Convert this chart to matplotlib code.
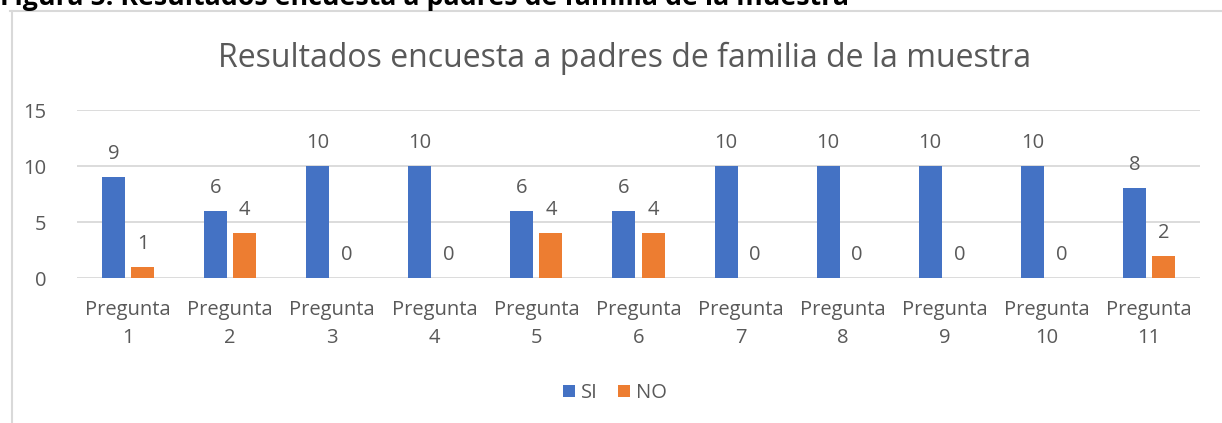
import matplotlib.pyplot as plt
import numpy as np
from matplotlib.lines import Line2D

# datos de la encuesta
preguntas = ['Pregunta\n1', 'Pregunta\n2', 'Pregunta\n3', 'Pregunta\n4', 'Pregunta\n5',
             'Pregunta\n6', 'Pregunta\n7', 'Pregunta\n8', 'Pregunta\n9', 'Pregunta\n10',
             'Pregunta\n11']
si_vals = [9, 6, 10, 10, 6, 6, 10, 10, 10, 10, 8]
no_vals = [1, 4, 0, 0, 4, 4, 0, 0, 0, 0, 2]
y_ticks = [0, 5, 10, 15]

azul = '#4472C4'
naranja = '#ED7D31'
gris = '#595959'

plt.rcParams['font.family'] = ['Open Sans', 'DejaVu Sans']

W, H = 1222, 423
fig = plt.figure(figsize=(W / 100, H / 100), dpi=100)

# marco del grafico
fig.add_artist(Line2D([10 / W, 1.0], [1 - 11.5 / H, 1 - 11.5 / H], transform=fig.transFigure,
                      color='#d9d9d9', lw=1.5))
fig.add_artist(Line2D([11.5 / W, 11.5 / W], [0, 1 - 11.5 / H], transform=fig.transFigure,
                      color='#d9d9d9', lw=1.5))

# titulo de la figura (cortado arriba)
fig.text(0 / W, 1 - 5 / H, 'Figura 5. Resultados encuesta a padres de familia de la muestra',
         fontsize=19.3, fontweight='bold', color='black', ha='left', va='baseline')

ax = fig.add_axes([77 / W, 1 - 278 / H, (1200 - 77) / W, (278 - 110) / H])

x = np.arange(len(preguntas))
w = 0.225
off = 0.1425
b1 = ax.bar(x - off, si_vals, w, color=azul, label='SI', zorder=3)
b2 = ax.bar(x + off, no_vals, w, color=naranja, label='NO', zorder=3)

for bars, vals in [(b1, si_vals), (b2, no_vals)]:
    for b, v in zip(bars, vals):
        ax.annotate(str(v), (b.get_x() + b.get_width() / 2, v), xytext=(0, 13),
                    textcoords='offset pixels', ha='center', va='bottom',
                    fontsize=14.5, color=gris)

ax.set_xlim(-0.5, len(preguntas) - 0.5)
ax.set_ylim(0, 15)
ax.set_yticks(y_ticks)
ax.set_xticks(x)
ax.set_xticklabels(preguntas, fontsize=14.5, color=gris, linespacing=1.55)
ax.tick_params(axis='y', labelsize=14.5, labelcolor=gris, length=0, pad=22)
ax.tick_params(axis='x', length=0, pad=16)
ax.grid(axis='y', color='#d9d9d9', lw=1.3, zorder=0)
for s in ax.spines.values():
    s.set_visible(False)

fig.text(625 / W, 1 - 58 / H, 'Resultados encuesta a padres de familia de la muestra',
         fontsize=23, color=gris, ha='center', va='center')

fig.legend(handles=[b1, b2], loc='center', bbox_to_anchor=(615 / W, 1 - 393 / H),
           ncol=2, frameon=False, fontsize=14.5, labelcolor=gris, handlelength=0.6,
           handleheight=0.6, handletextpad=0.3, columnspacing=1.0)

fig.savefig('out.png', dpi=100)
